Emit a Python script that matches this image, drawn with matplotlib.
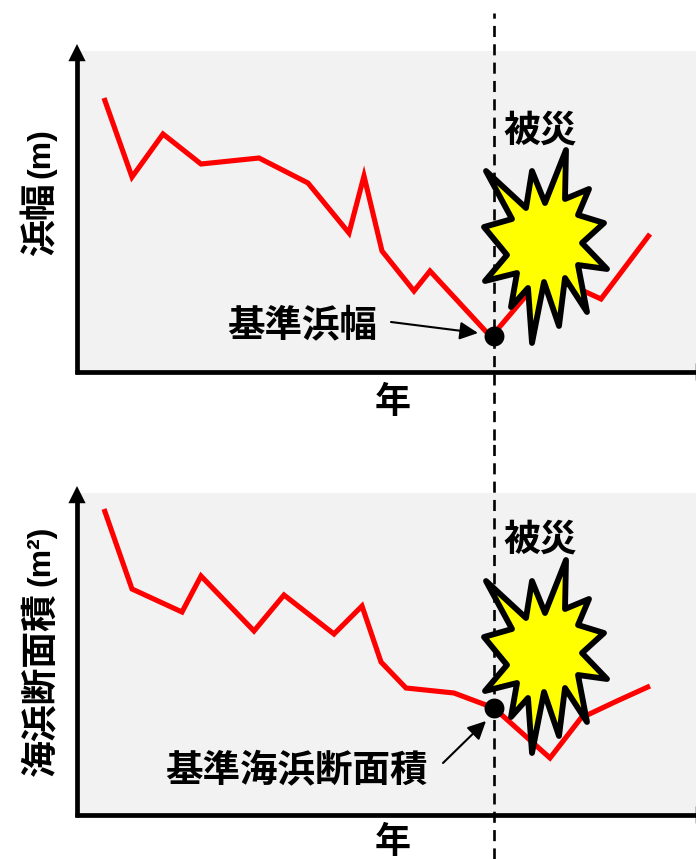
import numpy as np
import matplotlib
matplotlib.use('Agg')
import matplotlib.pyplot as plt
from matplotlib.patches import Polygon

plt.rcParams['font.family'] = ['Noto Sans CJK JP', 'DejaVu Sans']

W, H = 696, 859

# curves (x from axis, y above the baseline)
years_top = [27, 55, 86, 124, 182, 231, 272, 287, 305, 337, 353, 414, 448, 463, 493, 511, 524, 573]
width_top = [274, 195, 238, 208, 214, 189, 139, 196, 121, 81, 101, 35, 75, 92, 87, 79, 73, 138]
years_bot = [27, 55, 105, 124, 177, 207, 257, 285, 304, 329, 377, 417, 473, 504, 540, 573]
area_bot = [306, 226, 203, 239, 184, 220, 181, 209, 153, 127, 122, 107, 57, 97, 114, 129]

# burst outline, relative to the top panel
star_x = [138, 178, 184, 197, 218, 217, 241, 230, 256, 234, 259, 230, 239, 217, 211, 196, 184, 180, 163, 169, 137, 159, 136, 164]
star_y = [201, 164, 201, 169, 222, 173, 183, 157, 149, 129, 103, 107, 60, 94, 46, 90, 29, 84, 65, 99, 91, 117, 145, 153]

event_x = 417
base_top = 36
base_bot = 107


def axis_arrow(ax, start, tip):
    # shaft as a plain line, head as a separate filled arrow
    ax.plot([start[0], tip[0]], [start[1], tip[1]], color='black', lw=3.4, clip_on=False,
            solid_capstyle='butt', zorder=7)


def panel(top, bottom, line_top, line_bottom, ylabel, ylabel_y, unit, unit_y, xs, ys, base, star_dy, burst_y,
          year_y, note, note_xy, arrow_from, arrow_to):
    ax = fig.add_axes([77 / W, 1 - bottom / H, (W - 77) / W, (bottom - top) / H])
    ax.set_xlim(0, W - 77)
    ax.set_ylim(0, bottom - top)
    ax.set_facecolor('#f2f2f2')
    ax.set_xticks([])
    ax.set_yticks([])
    for s in ax.spines.values():
        s.set_visible(False)

    # event line runs past the panel
    ax.plot([event_x, event_x], [bottom - line_bottom, bottom - line_top], color='black', lw=1.9,
            dashes=(4.2, 2.75), clip_on=False, zorder=2)
    ax.plot(xs, ys, color='#ff0000', lw=3.7, solid_joinstyle='miter', solid_capstyle='butt', zorder=3)
    ax.scatter([event_x], [base], s=205, color='black', linewidths=0, zorder=6)

    pts = np.column_stack([np.array(star_x) + 271, np.array(star_y) + star_dy])
    ax.add_patch(Polygon(pts, closed=True, facecolor='#ffff00', edgecolor='black', lw=4.2,
                         joinstyle='round', zorder=5))

    height = bottom - top
    axis_arrow(ax, (0, -2), (0, height - 8))
    axis_arrow(ax, (-2, 0), (W - 77, 0))
    ax.annotate('', xy=(0, height + 7), xytext=(0, height - 12),
                arrowprops=dict(arrowstyle='-|>,head_length=0.62,head_width=0.31', color='black', lw=0,
                                shrinkA=0, shrinkB=0, mutation_scale=20),
                annotation_clip=False, zorder=7)
    ax.annotate('', xy=(W - 77 + 17, 0), xytext=(W - 77 - 2, 0),
                arrowprops=dict(arrowstyle='-|>,head_length=0.62,head_width=0.31', color='black', lw=0,
                                shrinkA=0, shrinkB=0, mutation_scale=20),
                annotation_clip=False, zorder=7)

    ax.annotate('', xy=arrow_to, xytext=arrow_from,
                arrowprops=dict(arrowstyle='-|>,head_length=0.55,head_width=0.27', color='black', lw=1.5,
                                shrinkA=0, shrinkB=0, mutation_scale=20), zorder=6)

    ax.text(note_xy[0], note_xy[1], note, fontsize=27, fontweight='bold', ha='center', va='center', zorder=6)
    ax.text(463, burst_y, '被災', fontsize=26.5, fontweight='bold', ha='center', va='center', zorder=6)
    ax.text(316, year_y, '年', fontsize=26, fontweight='bold', ha='center', va='center', clip_on=False)
    fig.text(41 / W, 1 - ylabel_y / H, ylabel, fontsize=26.5, fontweight='bold', rotation=90,
             ha='center', va='center')
    fig.text(41 / W, 1 - unit_y / H, unit, fontsize=23, fontweight='bold', rotation=90,
             ha='center', va='center', family=['Liberation Sans Narrow', 'Liberation Sans', 'DejaVu Sans'])


fig = plt.figure(figsize=(W / 100, H / 100), dpi=100)

panel(51, 372, 13, 440, '浜幅', 219, '(m)', 153, years_top, width_top, base_top, 0, 241, -31,
      '基準浜幅', (225, 47), (314, 50), (401, 39))
panel(493, 815, 440, 859, '海浜断面積', 684, '(m²)', 556, years_bot, area_bot, base_bot, 33, 275, -28,
      '基準海浜断面積', (219, 44), (366, 52), (409, 94))

plt.savefig('out.png', dpi=100)
